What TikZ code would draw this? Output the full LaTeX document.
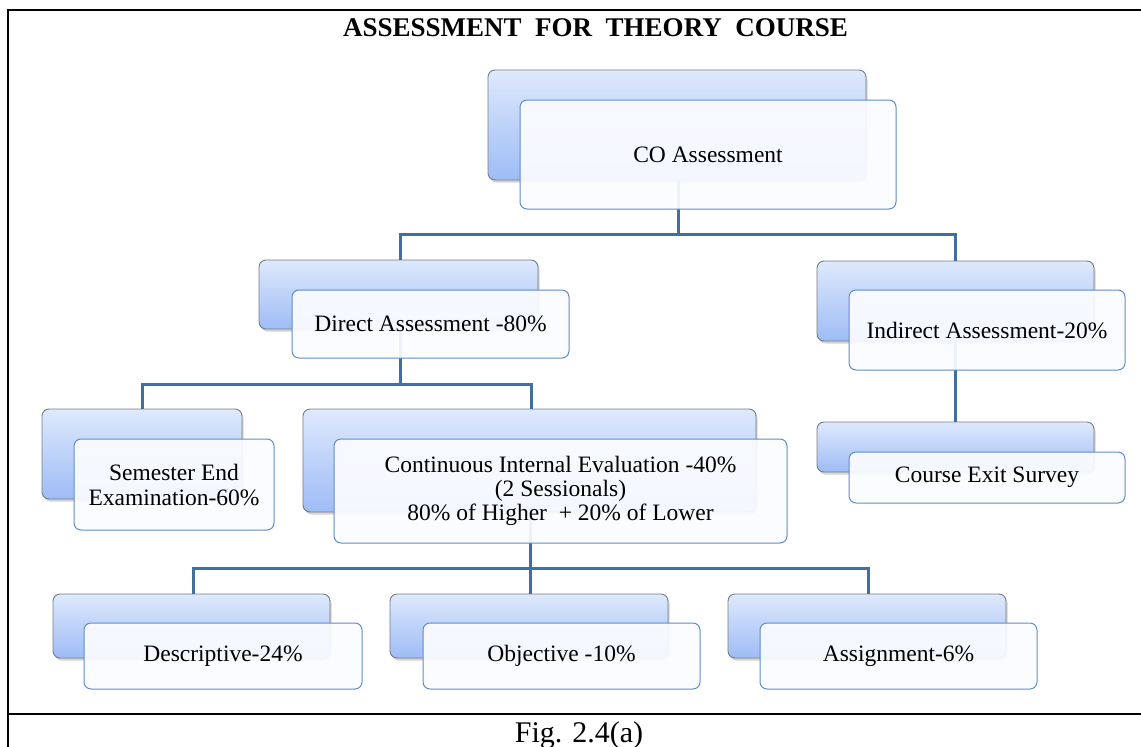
\documentclass[tikz,border=0pt]{standalone}
\usepackage{fontspec}
\setmainfont{Liberation Serif}
\usetikzlibrary{shadows,calc}

\definecolor{gradtop}{RGB}{222,233,252}
\definecolor{gradbot}{RGB}{158,188,246}
\definecolor{backedge}{RGB}{120,124,134}
\definecolor{frontedge}{RGB}{96,140,200}
\definecolor{frontfill}{RGB}{251,252,255}
\definecolor{connblue}{RGB}{66,110,160}

\tikzset{
  backbox/.style={draw=backedge, line width=0.9pt, rounded corners=7pt,
    top color=gradtop, bottom color=gradbot, inner sep=0pt,
    drop shadow={opacity=0.35, shadow xshift=1.5pt, shadow yshift=-2.5pt}},
  frontbox/.style={draw=frontedge, line width=1pt, rounded corners=7pt,
    fill=frontfill, fill opacity=0.93, text opacity=1, inner sep=0pt,
    align=center, font=\fontsize{23.5}{25}\selectfont},
  conn/.style={draw=connblue, line width=3pt},
  frame/.style={line width=2pt, black}
}

\begin{document}
\begin{tikzpicture}[x=1pt, y=-1pt]
\useasboundingbox (0,0) rectangle (1141,747);

% outer frame and caption row
\draw[frame] (8,747) -- (8,10) -- (1141,10);
\draw[frame] (8,714) -- (1141,714);
\node[anchor=base, inner sep=0pt, font=\fontsize{30}{32}\selectfont] (caption) at (579,742) {Fig. 2.4(a)};
\node[anchor=base, inner sep=0pt, font=\fontsize{27}{29}\selectfont\bfseries] (title) at (595.5,36)
  {ASSESSMENT\ \ FOR\ \ THEORY\ \ COURSE};

% back (gradient) panels
\node[backbox, minimum width=378pt, minimum height=110pt] (coB)  at (677,125) {};
\node[backbox, minimum width=279pt, minimum height=69pt]  (dirB) at (398.5,294.5) {};
\node[backbox, minimum width=277pt, minimum height=80pt]  (indB) at (955.5,301) {};
\node[backbox, minimum width=277pt, minimum height=50pt]  (cesB) at (955.5,447) {};
\node[backbox, minimum width=200pt, minimum height=90pt]  (semB) at (142,454) {};
\node[backbox, minimum width=453pt, minimum height=103pt] (cieB) at (529.5,460.5) {};
\node[backbox, minimum width=277pt, minimum height=64pt]  (desB) at (191.5,626) {};
\node[backbox, minimum width=278pt, minimum height=64pt]  (objB) at (529,626) {};
\node[backbox, minimum width=278pt, minimum height=64pt]  (asgB) at (867,626) {};

% branch points of the tree
\coordinate (bus1) at (678,234);
\coordinate (bus2) at (400,384);
\coordinate (bus3) at (530,568);

% connectors
\draw[conn] (coB.south -| bus1) -- (bus1) -| (dirB.north -| bus2);
\draw[conn] (bus1) -| (indB.north);
\draw[conn] (dirB.south -| bus2) -- (bus2) -| (semB.north);
\draw[conn] (bus2) -| (cieB.north -| 531,0);
\draw[conn] (indB.south) -- (cesB.north);
\draw[conn] (cieB.south -| bus3) -- (bus3) -| (desB.north -| 193,0);
\draw[conn] (bus3) -- (objB.north -| bus3);
\draw[conn] (bus3) -| (asgB.north -| 868,0);

% front (text) panels
\node[frontbox, minimum width=376pt, minimum height=109pt] (co)  at (708,154.5) {CO Assessment};
\node[frontbox, minimum width=277pt, minimum height=68pt]  (dir) at (430.5,324) {Direct Assessment -80\%};
\node[frontbox, minimum width=276pt, minimum height=80pt]  (ind) at (987,330) {Indirect Assessment-20\%};
\node[frontbox, minimum width=276pt, minimum height=51pt]  (ces) at (987,477.5) {Course Exit Survey};
\node[frontbox, minimum width=200pt, minimum height=91pt]  (sem) at (174,484.5) {Semester End\\Examination-60\%};
\node[frontbox, minimum width=453pt, minimum height=104pt, font=\fontsize{23.5}{24}\selectfont] (cie) at (560.5,491)
  {Continuous Internal Evaluation -40\%\\(2 Sessionals)\\80\% of Higher \ + 20\% of Lower};
\node[frontbox, minimum width=278pt, minimum height=66pt]  (des) at (223,656) {Descriptive-24\%};
\node[frontbox, minimum width=277pt, minimum height=66pt]  (obj) at (561.5,656) {Objective -10\%};
\node[frontbox, minimum width=277pt, minimum height=66pt]  (asg) at (898.5,656) {Assignment-6\%};
\end{tikzpicture}
\end{document}
